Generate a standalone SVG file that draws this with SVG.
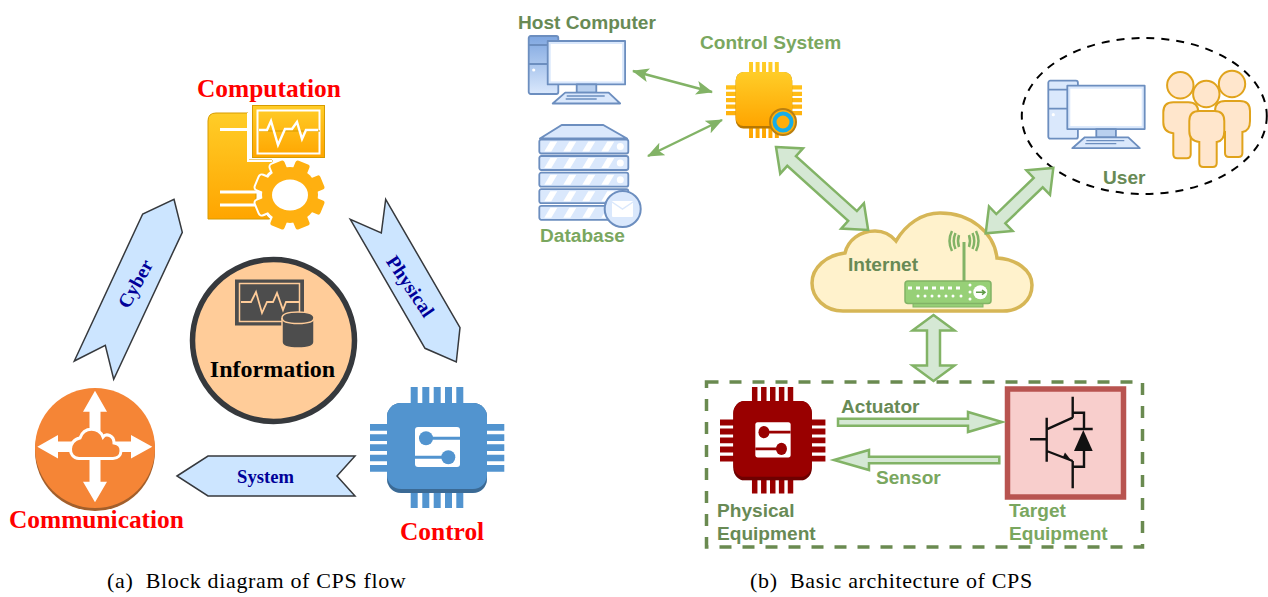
<svg xmlns="http://www.w3.org/2000/svg" width="1268" height="597" viewBox="0 0 1268 597">
<style>
.serif{font-family:"Liberation Serif","Times New Roman",serif}
.sans{font-family:"Liberation Sans",Arial,sans-serif;font-weight:bold;font-size:19.1px}
.dk{fill:#688a55}.lt{fill:#7aa75f}
.title{font-weight:bold;font-size:25.4px;fill:#ff0000}
.flow{fill:#cce5ff;stroke:#36393d;stroke-width:1.5;stroke-linejoin:miter}
.flowt{font-weight:bold;fill:#000099;text-anchor:middle}
.cap{font-size:22px;letter-spacing:.65px;fill:#000}
.ga{fill:#d5e8d4;stroke:#82b366;stroke-width:2.5;stroke-linejoin:miter}
.thin{fill:none;stroke:#82b366;stroke-width:2.5;marker-start:url(#ah);marker-end:url(#ah)}
.wire{fill:none;stroke:#111;stroke-width:2.4}
.pcs{stroke:#6c8ebf;stroke-width:1.8;stroke-linejoin:round}
</style>
<defs>
<linearGradient id="gold" x1="0" y1="0" x2="0" y2="1"><stop offset="0" stop-color="#ffcd28"/><stop offset="1" stop-color="#ffa500"/></linearGradient>
<linearGradient id="bl" x1="0" y1="0" x2="0" y2="1"><stop offset="0" stop-color="#7ea6e0"/><stop offset="1" stop-color="#dae8fc"/></linearGradient>
<marker id="ah" viewBox="0 0 17 14" refX="16" refY="7" markerWidth="17" markerHeight="14" markerUnits="userSpaceOnUse" orient="auto-start-reverse"><path d="M0,0 L17,7 L0,14 L4,7 Z" fill="#82b366"/></marker>
<g id="chip">
<path d="M0,37H134.300V43.700H0ZM0,47.300H134.300V54H0ZM0,57.300H134.300V64H0ZM0,67.700H134.300V74.300H0ZM0,78H134.300V84.700H0ZM40.700,0H47.700V121H40.700ZM52.300,0H59.300V121H52.300ZM63.700,0H70.700V121H63.700ZM75,0H82V121H75ZM86.300,0H93.300V121H86.300Z"/>
<rect x="17" y="16" width="100" height="90" rx="14"/>
<rect x="17" y="16" width="100" height="90" rx="14" fill="#000" opacity=".28"/>
<rect x="17" y="16" width="100" height="86" rx="14"/>
</g>
<g id="sglyph">
<rect x="45" y="40" width="45" height="40" rx="3" fill="#fff" stroke="none"/>
<path d="M56,51.300H90M45,70.300H78.300" fill="none" stroke-width="3"/>
<circle cx="56" cy="51.300" r="7" stroke="none"/><circle cx="78.300" cy="70.300" r="7" stroke="none"/>
</g>
<g id="pc" class="pcs">
<rect x="0" y="0" width="29.600" height="58" rx="2"/>
<path d="M0,9H29.600M0,28H29.600" fill="none"/>
<circle cx="5" cy="34" r="1.600" fill="#fff" stroke="none"/>
<rect x="19" y="5" width="77.400" height="43.400" fill="#dae8fc"/>
<rect x="22" y="8" width="71.400" height="37.400" fill="#fff" stroke="none"/>
<rect x="48" y="48.400" width="19.600" height="8.200" fill="#b9d0ef"/>
<path d="M36.500,56.600H80L91.500,67.500H24Z" fill="#dae8fc"/>
<path d="M38,60H76M37,63H68" stroke-width="1.300" fill="none"/>
</g>
<g id="person">
<path d="M10,0H25Q35,0 35,10V20Q35,30 27.400,31V52Q27.400,56 23.400,56H14Q10,56 10,52V31Q0,30 0,20V10Q0,0 10,0Z"/>
<circle cx="17" cy="-17" r="13.200"/>
</g>
<g id="dbrow">
<rect x="0" y="0" width="89" height="14" rx="2" fill="#dae8fc" stroke="#6c8ebf" stroke-width="1.800"/>
<path d="M6,12L12,2H19L13,12ZM25,12L31,2H38L32,12ZM44,12L50,2H57L51,12ZM63,12L69,2H76L70,12Z" fill="#fff" transform="translate(-1 0)"/>
<circle cx="81" cy="7" r="3.500" fill="#fff"/>
</g>
<rect id="tooth" x="-7.500" y="-35" width="15" height="13" rx="2.500"/>
</defs>

<g id="node-computation">
<path d="M208,121Q208,113 216,113H248V160H272V172L256,184V205L270,219H208Z" fill="url(#gold)" stroke="#d79b00"/>
<path d="M220,129.500H252M220,192H262M220,205H258" stroke="#fff" stroke-width="3.200" fill="none"/>
<path d="M248,113V161H272" fill="none" stroke="#fff" stroke-width="2"/>
<rect x="252.500" y="105.500" width="72" height="52" fill="url(#gold)" stroke="#d79b00"/>
<rect x="257.500" y="110.500" width="62" height="43" fill="none" stroke="#fff" stroke-width="2"/>
<path d="M259,131H320" stroke="#d79b00" stroke-width="1"/>
<polyline points="259,130 267,130 271,121 278,145 285,129 292,129 297,122 302,139 306,130 318,130" fill="none" stroke="#fff" stroke-width="2.400"/>
<g fill="#fff" stroke="#fff" stroke-width="4" transform="translate(290 195)">
<circle r="29"/>
<use href="#tooth" transform="rotate(22.500)"/><use href="#tooth" transform="rotate(67.500)"/><use href="#tooth" transform="rotate(112.500)"/><use href="#tooth" transform="rotate(157.500)"/><use href="#tooth" transform="rotate(202.500)"/><use href="#tooth" transform="rotate(247.500)"/><use href="#tooth" transform="rotate(292.500)"/><use href="#tooth" transform="rotate(337.500)"/>
</g>
<g fill="#ffb010" transform="translate(290 195)">
<circle r="28"/>
<use href="#tooth" transform="rotate(22.500)"/><use href="#tooth" transform="rotate(67.500)"/><use href="#tooth" transform="rotate(112.500)"/><use href="#tooth" transform="rotate(157.500)"/><use href="#tooth" transform="rotate(202.500)"/><use href="#tooth" transform="rotate(247.500)"/><use href="#tooth" transform="rotate(292.500)"/><use href="#tooth" transform="rotate(337.500)"/>
<ellipse rx="18" ry="15.500" fill="#fff"/>
</g>
<text class="serif title" x="197" y="97">Computation</text>
</g>

<g id="node-information">
<circle cx="273.500" cy="340.500" r="81" fill="#ffcc99" stroke="#36393d" stroke-width="5.500"/>
<rect x="235" y="279.500" width="69" height="46" fill="#4d4d4d"/>
<rect x="239.500" y="283.500" width="60" height="38" fill="none" stroke="#ffcc99" stroke-width="1.500"/>
<polyline points="241,302 251,302 256,292 262,313 267,302 273,302 277,293 283,310 286,302 299,302" fill="none" stroke="#ffcc99" stroke-width="1.800"/>
<path d="M282,318V342Q282,348 298,348Q314,348 314,342V318Q314,312 298,312Q282,312 282,318Z" fill="#4d4d4d" stroke="#ffcc99" stroke-width="1.500"/>
<path d="M282,318Q282,323.500 298,323.500Q314,323.500 314,318" fill="none" stroke="#ffcc99" stroke-width="1.500"/>
<text class="serif" x="272.500" y="377" text-anchor="middle" font-size="24" font-weight="bold" fill="#000">Information</text>
</g>

<g id="node-communication">
<circle cx="95" cy="451" r="60" fill="#a35f2b"/>
<circle cx="95" cy="448" r="60" fill="#f58536"/>
<path fill="#fff" d="M95,390.700L107,411.700H100.500V481.700H107L95,502.300L83,481.700H89.500V411.700H83Z"/>
<path fill="#fff" d="M37.300,446.700L58,435V441.500H131V435L152.300,446.700L131,458.500V452H58V458.500Z"/>
<path d="M79,458.500H113C123,458.500 124,444 114,443C114,435 106,433 103,437C99,427 84,426 80,438C68,440 67,458 79,458.500Z" fill="#f58536" stroke="#fff" stroke-width="3"/>
<text class="serif title" x="9" y="528">Communication</text>
</g>

<g id="node-control">
<use href="#chip" transform="translate(370 387)" fill="#5294cf"/>
<use href="#sglyph" transform="translate(370 387)" fill="#5294cf" stroke="#5294cf"/>
<text class="serif title" x="400" y="540">Control</text>
</g>

<g id="flow-arrows">
<polygon class="flow" points="174,199.300 182.300,232.300 113.700,379.300 105.300,345.300 74.300,361 142.700,214"/>
<text class="serif flowt" font-size="19.500" transform="translate(141 287) rotate(-61)">Cyber</text>
<polygon class="flow" points="385.700,199.300 460,327.700 456.300,362 425,348.300 350.300,219.300 381.300,233"/>
<text class="serif flowt" font-size="19.500" transform="translate(405 290) rotate(56)">Physical</text>
<polygon class="flow" points="177,476 208,456 355,456 337,476 355,496 208,496"/>
<text class="serif flowt" font-size="18.600" x="265.500" y="483">System</text>
</g>

<text class="serif cap" x="107" y="588" xml:space="preserve">(a)  Block diagram of CPS flow</text>
<text class="serif cap" x="750" y="588" xml:space="preserve">(b)  Basic architecture of CPS</text>

<g id="node-host">
<use href="#pc" transform="translate(528.700 36)" fill="url(#bl)"/>
<text class="sans dk" x="518" y="29">Host Computer</text>
</g>

<g id="node-database">
<path d="M561.700,125H603.300L627,138.500H540Z" fill="#dae8fc" stroke="#6c8ebf" stroke-width="2" stroke-linejoin="round"/>
<use href="#dbrow" x="539.300" y="139.500"/>
<use href="#dbrow" x="539.300" y="156"/>
<use href="#dbrow" x="539.300" y="172.700"/>
<use href="#dbrow" x="539.300" y="189.200"/>
<use href="#dbrow" x="539.300" y="205.800"/>
<circle cx="622.700" cy="209" r="18" fill="#dae8fc" stroke="#6c8ebf" stroke-width="2"/>
<rect x="612" y="201" width="21" height="16" rx="1" fill="#fff"/>
<path d="M612,202L622.500,209L633,202" fill="none" stroke="#dae8fc" stroke-width="1.500"/>
<text class="sans lt" x="540" y="242">Database</text>
</g>

<g id="node-control-system">
<use href="#chip" transform="translate(726 62) scale(.566 .628)" fill="url(#gold)"/>
<circle cx="783" cy="122" r="13" fill="#ffae0a" stroke="#b97f10" stroke-width="2"/>
<circle cx="783" cy="122" r="8.500" fill="none" stroke="#17ade8" stroke-width="4"/>
<text class="sans lt" x="700" y="49">Control System</text>
</g>

<g id="node-user">
<ellipse cx="1144.300" cy="116" rx="122.500" ry="78" fill="none" stroke="#000" stroke-width="2" stroke-dasharray="8 7"/>
<use href="#pc" transform="translate(1048.300 80.700)" fill="#dae8fc"/>
<g fill="#ffe6cc" stroke="#e0a31c" stroke-width="2">
<use href="#person" x="1163.300" y="102.300"/>
<use href="#person" x="1215" y="101"/>
<use href="#person" x="1189.300" y="111"/>
</g>
<text class="sans dk" x="1103" y="184">User</text>
</g>

<g id="node-internet">
<path d="M843,311C825,311 812,298 812,283C812,268 826,255 845,253C848,240 860,231 875,231C884,231 891,235 896,241C906,224 922,213 940,213C970,213 994,232 997,258C1016,259 1032,270 1032,285C1032,300 1020,311 1003,311Z" fill="#fff2cc" stroke="#d6b656" stroke-width="3.500"/>
<text class="sans dk" x="848" y="271">Internet</text>
<path d="M964,281V242" stroke="#82b366" stroke-width="3" fill="none"/>
<path d="M959,235Q957,241 959,247M969,235Q971,241 969,247M955.500,233Q952,241 955.500,249M972.500,233Q976,241 972.500,249M952,231Q947,241 952,251M976,231Q981,241 976,251" stroke="#82b366" stroke-width="2.500" fill="none"/>
<rect x="913" y="303" width="70" height="4" fill="#97d077" stroke="#82b366"/>
<rect x="905" y="281" width="86" height="22.500" rx="3" fill="#97d077" stroke="#82b366" stroke-width="1.500"/>
<path d="M908,288h4M916,288h4M924,288h4M932,288h4M940,288h4M948,288h4M956,288h4" stroke="#fff" stroke-width="3" fill="none"/>
<g fill="#fff"><circle cx="918" cy="296" r="1.500"/><circle cx="925" cy="296" r="1.500"/><circle cx="932" cy="296" r="1.500"/><circle cx="939" cy="296" r="1.500"/><circle cx="946" cy="296" r="1.500"/><circle cx="953" cy="296" r="1.500"/><circle cx="961" cy="296" r="1.500"/><circle cx="970" cy="285" r="1.500"/><circle cx="970" cy="292" r="1.500"/><circle cx="970" cy="299" r="1.500"/><circle cx="980.300" cy="292.300" r="7"/></g>
<path d="M976,292.300H984M982,290L985,292.300L982,294.600" fill="none" stroke="#5f9a48" stroke-width="1.500"/>
</g>

<g id="node-physical">
<use href="#chip" transform="translate(720 387) scale(.785 .88)" fill="#990000"/>
<use href="#sglyph" transform="translate(720 387) scale(.785 .88)" fill="#990000" stroke="#990000"/>
<text class="sans dk" x="717" y="517">Physical</text>
<text class="sans dk" x="717" y="540">Equipment</text>
</g>

<g id="node-target">
<rect x="1007.500" y="389" width="116" height="108" fill="#f8cecc" stroke="#b85450" stroke-width="5.500"/>
<path class="wire" d="M1030,439.300H1046.700M1046.700,417.700V461.700M1046.700,429.300L1072.700,417.700M1072.700,396.700V417.700M1072.700,412.700H1084V429M1084,451V466.700H1072.700M1046.700,451L1072.700,461M1072.700,461V488.300M1073.300,429H1092.700"/>
<path d="M1083.300,430L1092.700,451H1074Z" fill="#111"/>
<path d="M1072,461.500L1063,457L1065,452.500Z" fill="#111"/>
<text class="sans lt" x="1009" y="517">Target</text>
<text class="sans lt" x="1009" y="540">Equipment</text>
</g>

<g id="boundary">
<rect x="706.500" y="382" width="436" height="165" fill="none" stroke="#6a8a50" stroke-width="3.500" stroke-dasharray="12 11"/>
</g>

<g id="connectors">
<line class="thin" x1="633" y1="71" x2="712" y2="92"/>
<line class="thin" x1="648" y1="156" x2="722" y2="120"/>
<path class="ga" transform="translate(776 147) rotate(42)" d="M0,0L21,-17V-6.500H103V-17L124,0L103,17V6.500H21V17Z"/>
<path class="ga" transform="translate(985.700 233.300) rotate(-44)" d="M0,0L21,-17V-6.500H73V-17L94,0L73,17V6.500H21V17Z"/>
<path class="ga" d="M933.500,315L954.500,330.500H940V365.500H954.500L933.500,381L912.500,365.500H927V330.500H912.500Z"/>
<path class="ga" d="M838,418.800H968V412L1002,422L968,432V425.800H838Z"/>
<path class="ga" d="M834,460L869,450V456.700H999.300V463.300H869V470Z"/>
</g>
<text class="sans dk" x="841" y="413">Actuator</text>
<text class="sans lt" x="876" y="484">Sensor</text>
</svg>
